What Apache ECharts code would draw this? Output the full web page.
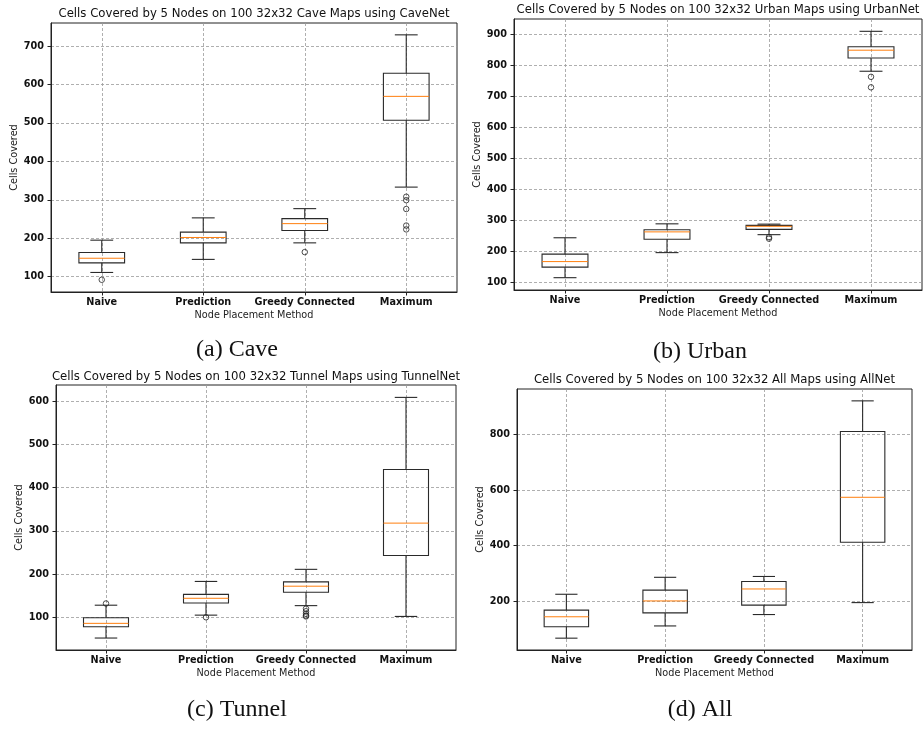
<!DOCTYPE html>
<html>
<head>
<meta charset="utf-8">
<script src="https://cdn.jsdelivr.net/npm/echarts@6/dist/echarts.min.js"></script>
<style>
  html, body { margin: 0; padding: 0; background: #fff; }
  #chart { width: 924px; height: 729px; }
</style>
</head>
<body>
<div id="chart"></div>
<script>
// Placement methods compared in every panel
const methods = ['Naive', 'Prediction', 'Greedy Connected', 'Maximum'];

// Box statistics per method: [lower whisker, Q1, median, Q3, upper whisker]
const caveStats = [
  [111, 136, 148, 163, 195],
  [145, 188, 202, 216, 253],
  [188, 220, 238, 251, 277],
  [333, 507, 569, 629, 729]
];
const caveOutliers = [[0, 92], [2, 164], [3, 308], [3, 299], [3, 276], [3, 233], [3, 223]];

const urbanStats = [
  [114, 148, 166, 190, 243],
  [195, 238, 262, 269, 288],
  [253, 270, 280, 283, 287],
  [781, 824, 849, 860, 910]
];
const urbanOutliers = [[2, 245], [2, 240], [3, 763], [3, 729]];

const tunnelStats = [
  [52, 78, 86, 99, 128],
  [105, 133, 144, 153, 183],
  [127, 158, 172, 182, 211],
  [102, 243, 318, 442, 609]
];
const tunnelOutliers = [[0, 132], [1, 100], [2, 120], [2, 114], [2, 108], [2, 104], [2, 102]];

const allStats = [
  [67, 108, 144, 168, 225],
  [111, 158, 201, 240, 286],
  [152, 186, 244, 271, 289],
  [195, 412, 574, 811, 921]
];
const allOutliers = [];

// Y tick values per panel
const caveTicks = [100, 200, 300, 400, 500, 600, 700];
const urbanTicks = [100, 200, 300, 400, 500, 600, 700, 800, 900];
const tunnelTicks = [100, 200, 300, 400, 500, 600];
const allTicks = [200, 400, 600, 800];

const titles = [
  'Cells Covered by 5 Nodes on 100 32x32 Cave Maps using CaveNet',
  'Cells Covered by 5 Nodes on 100 32x32 Urban Maps using UrbanNet',
  'Cells Covered by 5 Nodes on 100 32x32 Tunnel Maps using TunnelNet',
  'Cells Covered by 5 Nodes on 100 32x32 All Maps using AllNet'
];
const captions = ['(a) Cave', '(b) Urban', '(c) Tunnel', '(d) All'];

const panels = [
  { stats: caveStats, outliers: caveOutliers, ticks: caveTicks, range: [60.2, 759.8],
    box: { left: 51, top: 23, width: 406, height: 269 }, titleY: 14, caption: [237, 350] },
  { stats: urbanStats, outliers: urbanOutliers, ticks: urbanTicks, range: [74.2, 949.8],
    box: { left: 514, top: 19, width: 408, height: 271 }, titleY: 10, caption: [700, 352] },
  { stats: tunnelStats, outliers: tunnelOutliers, ticks: tunnelTicks, range: [24.3, 637.7],
    box: { left: 56, top: 385, width: 400, height: 265 }, titleY: 377, caption: [237, 710] },
  { stats: allStats, outliers: allOutliers, ticks: allTicks, range: [24.4, 963.7],
    box: { left: 517, top: 389, width: 395, height: 261 }, titleY: 380, caption: [700, 710] }
];

const FONT = 'DejaVu Sans';
const gridLine = { color: '#9a9a9a', width: 0.8, type: [3, 2] };

function renderBox(params, api) {
  const x = api.value(0);
  const lo = api.value(1), q1 = api.value(2), med = api.value(3), q3 = api.value(4), hi = api.value(5);
  const unit = api.size([1, 0])[0];
  const half = unit * 0.225, capHalf = unit * 0.1125;
  const pLo = api.coord([x, lo]), pQ1 = api.coord([x, q1]), pMed = api.coord([x, med]);
  const pQ3 = api.coord([x, q3]), pHi = api.coord([x, hi]);
  const cx = pLo[0];
  const stroke = { stroke: '#2a2a2a', lineWidth: 1.1, fill: null };
  return {
    type: 'group',
    children: [
      { type: 'line', shape: { x1: cx, y1: pQ1[1], x2: cx, y2: pLo[1] }, style: stroke },
      { type: 'line', shape: { x1: cx, y1: pQ3[1], x2: cx, y2: pHi[1] }, style: stroke },
      { type: 'line', shape: { x1: cx - capHalf, y1: pLo[1], x2: cx + capHalf, y2: pLo[1] }, style: stroke },
      { type: 'line', shape: { x1: cx - capHalf, y1: pHi[1], x2: cx + capHalf, y2: pHi[1] }, style: stroke },
      { type: 'rect', shape: { x: cx - half, y: pQ3[1], width: half * 2, height: pQ1[1] - pQ3[1] },
        style: { stroke: '#2a2a2a', lineWidth: 1.1, fill: 'rgba(255,255,255,0)' } },
      { type: 'line', shape: { x1: cx - half, y1: pMed[1], x2: cx + half, y2: pMed[1] },
        style: { stroke: '#ff7f0e', lineWidth: 1 } }
    ]
  };
}

const grid = [], xAxis = [], yAxis = [], series = [], graphic = [];

panels.forEach((p, i) => {
  grid.push(Object.assign({ show: true, borderColor: '#222', borderWidth: 1, backgroundColor: 'transparent' }, p.box));
  xAxis.push({
    type: 'value', gridIndex: i, min: 0.5, max: 4.5,
    name: 'Node Placement Method', nameLocation: 'middle', nameGap: 18,
    nameTextStyle: { fontFamily: FONT, fontSize: 9.7, color: '#222' },
    axisLine: { show: true, lineStyle: { color: '#222' } },
    axisTick: { show: true, length: 3.5, lineStyle: { color: '#222' }, customValues: [1, 2, 3, 4] },
    axisLabel: {
      customValues: [1, 2, 3, 4], margin: 5,
      formatter: v => methods[Math.round(v) - 1],
      fontFamily: FONT, fontWeight: 'bold', fontSize: 9.7, color: '#111'
    },
    splitLine: { show: true, lineStyle: gridLine }
  });
  yAxis.push({
    type: 'value', gridIndex: i, min: p.range[0], max: p.range[1],
    name: 'Cells Covered', nameLocation: 'middle', nameGap: 31,
    nameTextStyle: { fontFamily: FONT, fontSize: 9.7, color: '#222' },
    axisLine: { show: true, lineStyle: { color: '#222' } },
    axisTick: { show: true, length: 3.5, lineStyle: { color: '#222' }, customValues: p.ticks },
    axisLabel: {
      customValues: p.ticks, margin: 7,
      fontFamily: FONT, fontWeight: 'bold', fontSize: 9.7, color: '#111'
    },
    splitLine: { show: true, lineStyle: gridLine }
  });
  series.push({
    type: 'custom', xAxisIndex: i, yAxisIndex: i,
    renderItem: renderBox,
    encode: { x: 0, y: [1, 2, 3, 4, 5] },
    data: p.stats.map((s, k) => [k + 1].concat(s)),
    z: 3
  });
  series.push({
    type: 'scatter', xAxisIndex: i, yAxisIndex: i,
    symbol: 'circle', symbolSize: 5.5,
    itemStyle: { color: 'rgba(255,255,255,0)', borderColor: '#222', borderWidth: 1 },
    data: p.outliers.map(o => [o[0] + 1, o[1]]),
    z: 4
  });
  // Panel title, centred over its plot box
  graphic.push({
    type: 'text', x: p.box.left + p.box.width / 2, y: p.titleY,
    style: { text: titles[i], font: '11.7px "DejaVu Sans"', fill: '#111',
             textAlign: 'center', textVerticalAlign: 'middle' }
  });
  // Sub-figure caption below the panel
  graphic.push({
    type: 'text', x: p.caption[0], y: p.caption[1],
    style: { text: captions[i], font: '24px "Liberation Serif"', fill: '#111',
             textAlign: 'center', textVerticalAlign: 'middle' }
  });
});

const chart = echarts.init(document.getElementById('chart'), null, { renderer: 'canvas' });
chart.setOption({
  animation: false,
  backgroundColor: '#fff',
  grid, xAxis, yAxis, series, graphic
});
</script>
</body>
</html>
